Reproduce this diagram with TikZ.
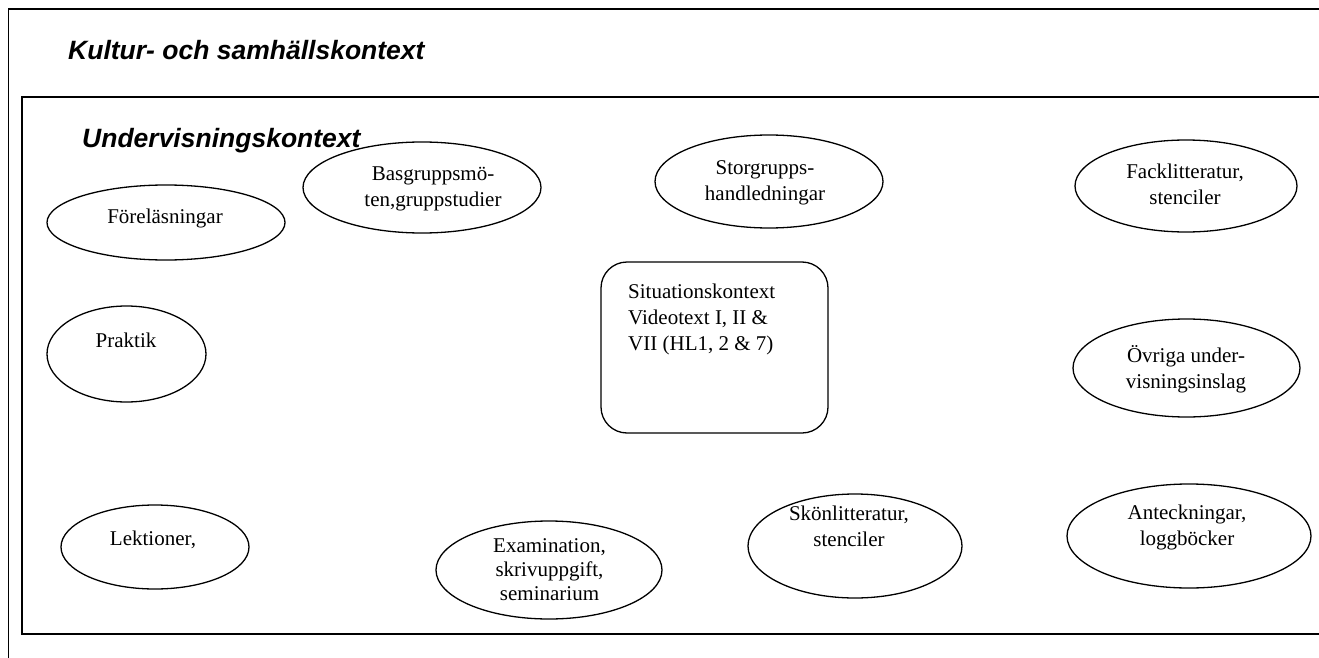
\documentclass[tikz,border=0pt]{standalone}
\usepackage{fontspec}
\setmainfont{Liberation Serif}
\newfontfamily\headfont{Liberation Sans}
\usetikzlibrary{shapes.geometric}
\begin{document}
\begin{tikzpicture}[x=1pt,y=-1pt,
  frame/.style={line width=1.8pt},
  item/.style={draw, ellipse, line width=1.3pt, inner sep=0pt},
  itemtext/.style={font=\fontsize{21}{26}\selectfont, align=center, inner sep=0pt},
  head/.style={font=\headfont\bfseries\itshape\fontsize{26.5}{30}\selectfont,
               inner sep=0pt, anchor=base west}]
\useasboundingbox (0,0) rectangle (1319,658);
\clip (0,0) rectangle (1319,658);

% outer and inner context frames (open to the right)
\draw[frame] (8.5,670) -- (8.5,9) -- (1330,9);
\draw[frame] (1330,97) -- (22,97) -- (22,634) -- (1330,634);

\node[head] (kultur) at (68,60) {Kultur- och samhällskontext};
\node[head] (underv) at (82,147) {Undervisningskontext};

% top row
\node[item, minimum width=238pt, minimum height=75pt] (forel) at (166,222.5) {};
\node[itemtext] (forelT) at (165,218) {\strut Föreläsningar};

\node[item, minimum width=238pt, minimum height=91pt] (basgr) at (422,187.5) {};
\node[itemtext] (basgrT) at (433,188.5) {\strut Basgruppsmö-\\\strut ten,gruppstudier};

\node[item, minimum width=228pt, minimum height=93pt] (storgr) at (769,181.5) {};
\node[itemtext] (storgrT) at (765,182.5) {\strut Storgrupps-\\\strut handledningar};

\node[item, minimum width=222pt, minimum height=92pt] (fack) at (1186,186) {};
\node[itemtext] (fackT) at (1185,186.5) {\strut Facklitteratur,\\\strut stenciler};

% middle row
\node[item, minimum width=159pt, minimum height=96pt] (praktik) at (126.5,354) {};
\node[itemtext] (praktikT) at (126,342) {\strut Praktik};

\node[draw, rounded corners=26pt, line width=1.3pt,
      minimum width=227pt, minimum height=171pt] (situ) at (714.5,347.5) {};
\node[itemtext, align=left, anchor=west] (situT) at (628,319)
  {\strut Situationskontext\\\strut Videotext I, II \&\\\strut VII (HL1, 2 \& 7)};

\node[item, minimum width=227pt, minimum height=98pt] (ovriga) at (1186.5,368) {};
\node[itemtext] (ovrigaT) at (1186,370) {\strut Övriga under-\\\strut visningsinslag};

% bottom row
\node[item, minimum width=188pt, minimum height=84pt] (lekt) at (155,547) {};
\node[itemtext] (lektT) at (153,540) {\strut Lektioner,};

\node[item, minimum width=226pt, minimum height=98pt] (exam) at (549,570) {};
\node[itemtext, font=\fontsize{21}{24}\selectfont] (examT) at (549.5,572)
  {\strut Examination,\\\strut skrivuppgift,\\\strut seminarium};

\node[item, minimum width=214pt, minimum height=104pt] (skon) at (855,546) {};
\node[itemtext] (skonT) at (849,528.5) {\strut Skönlitteratur,\\\strut stenciler};

\node[item, minimum width=244pt, minimum height=104pt] (antek) at (1189,536) {};
\node[itemtext] (antekT) at (1187,527.5) {\strut Anteckningar,\\\strut loggböcker};
\end{tikzpicture}
\end{document}
